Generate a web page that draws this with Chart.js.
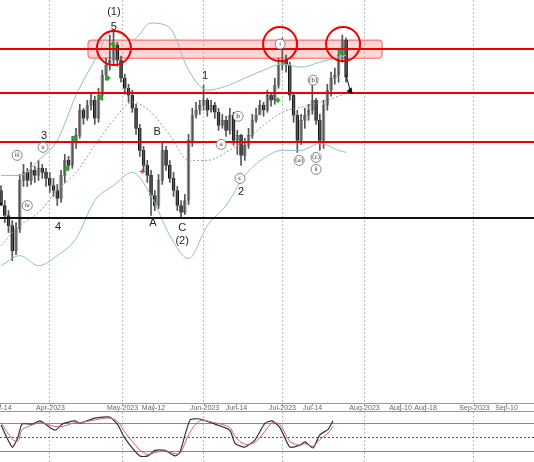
<!DOCTYPE html>
<html>
<head>
<meta charset="utf-8">
<script src="https://cdn.jsdelivr.net/npm/chart.js@4.4.0/dist/chart.umd.min.js"></script>
<style>
  body { margin: 0; background: #fff; }
  #wrap { position: relative; width: 534px; height: 462px; }
  #main { position: absolute; left: 0; top: 0; }
  #osc { position: absolute; left: 0; top: 412px; }
</style>
</head>
<body>
<div id="wrap">
  <canvas id="main" width="534" height="412"></canvas>
  <canvas id="osc" width="534" height="50"></canvas>
</div>
<script>
"use strict";

// price bars, one per trading day (index 0 = Mar-14)
const closes = [195,185,175,150,172,220,228,220,230,225,232,228,222,215,210,202,225,240,235,258,265,290,282,295,300,282,305,325,335,340,355,340,322,312,305,292,272,250,235,225,205,195,220,250,235,222,210,195,188,200,260,285,290,295,300,290,295,288,275,280,270,285,260,265,245,255,265,280,285,295,290,305,300,315,335,340,335,305,285,260,280,285,290,300,280,260,295,310,322,325,345,360,323];
const opens = [210,195,185,175,150,172,220,228,220,230,225,232,228,222,215,210,202,225,240,235,258,265,290,282,295,300,282,305,325,335,340,355,340,322,312,305,292,272,250,235,225,205,195,220,250,235,222,210,195,188,200,260,285,290,295,300,290,295,288,275,280,270,285,260,265,245,255,265,280,285,295,290,305,300,315,335,340,335,305,285,260,280,285,290,300,280,260,295,310,322,325,345,360];
const highs = [215,200,190,180,178,226,236,232,238,234,240,236,232,228,222,216,230,246,244,264,272,296,292,300,306,304,312,330,342,365,370,358,344,326,316,310,296,276,254,240,230,210,226,258,254,240,228,214,200,206,266,292,298,300,315,302,300,298,292,286,284,292,288,270,266,262,272,286,292,300,298,310,308,322,342,362,345,338,308,290,286,292,296,322,302,286,300,316,328,332,352,365,362];
const lows = [198,178,168,140,146,168,214,214,216,218,220,222,214,208,204,195,198,218,230,232,252,262,276,280,290,276,278,300,320,330,336,334,318,306,298,288,266,244,228,218,185,190,192,216,230,218,204,190,182,186,196,254,282,286,290,284,288,282,270,272,264,266,255,246,235,240,252,262,278,286,284,288,294,296,312,330,328,300,278,248,256,272,280,286,276,250,252,290,304,316,318,338,318];

// bollinger bands, sampled every 5 bars
const bandIdx = [0,5,10,15,20,25,30,35,40,45,50,55,60,65,70,75,80,85,90,92];
const bandUpper = [225,225,240,260,305,340,370,360,377,372,330,310,314,322,330,336,333,338,343,345];
const bandMid = [155,175,188,210,228,255,280,298,288,265,240,240,248,260,275,288,293,298,304,307];
const bandLower = [135,145,135,145,162,200,215,228,205,165,142,175,195,225,242,250,250,257,250,248];

// levels
const redLevels = [351, 307, 258];
const blackLevel = 183;
const zone = { from: 23.2, to: 101.6, low: 342, high: 360 };
const circles = [[30.1, 352], [74.4, 356], [91.2, 356]];

// date axis
const tickPos = [-0.3, 13, 32.3, 40.5, 54, 62.7, 75, 83, 96.8, 106.4, 113, 126, 134.7];
const tickLabels = ["Mar-14", "Apr-2023", "May-2023", "May-12", "Jun-2023", "Jun-14", "Jul-2023", "Jul-14", "Aug-2023", "Aug-10", "Aug-18", "Sep-2023", "Sep-10"];
const monthTicks = [13, 32.3, 54, 75, 96.8, 126];

// wave labels: [bar index, price, text, circled]
const waveLabels = [
  [30.1, 388, "(1)", false], [30.1, 373, "5", false], [11.5, 264, "3", false], [15.2, 174, "4", false],
  [41.6, 268, "B", false], [40.5, 178, "A", false], [48.3, 173, "C", false], [48.3, 160, "(2)", false],
  [54.4, 324, "1", false], [64, 209, "2", false],
  [4.3, 245, "iii", true], [7, 195, "iv", true], [11.2, 253, "v", true], [74.4, 356, "i", true],
  [58.7, 256, "a", true], [63.2, 284, "b", true], [63.7, 222, "c", true],
  [79.5, 240, "(a)", true], [83.2, 320, "(b)", true], [84, 243, "(c)", true], [84, 231, "ii", true]
];
const greenMarks = [[17.5, 232], [19.5, 262], [26.5, 303], [28.5, 322], [29.8, 356], [73.8, 300], [90.5, 348]];

// stochastic oscillator
const oscIdx = [0,3,4.5,5.6,8.3,10.4,14.4,16.3,19.7,21,25,29,31.2,33,37,39.2,41,43.7,46.4,47.7,50.4,53,57,61,62.4,65,67.7,70.4,72.3,74.4,77,79.7,81,83.2,85,87.2,88.5];
const oscK = [75,28,49,77,77,84,64,77,84,79,90,92,75,47,9,9,21,21,9,17,86,88,77,64,36,28,43,79,84,69,28,32,39,26,54,66,84];
const oscD = [80,45,40,65,75,80,72,72,80,80,86,90,82,60,22,12,16,20,14,14,60,84,80,70,50,34,38,62,80,76,40,32,35,30,44,58,72];

const xMin = -0.27, xMax = 142.1;

const wicks = closes.map((c, i) => ({ x: i, y: [lows[i], highs[i]] }));
const bodies = closes.map((c, i) => ({ x: i, y: [opens[i], c === opens[i] ? c + 1 : c] }));
const upColor = closes.map((c, i) => c >= opens[i] ? "#ececec" : "#111");
const upBorder = closes.map((c, i) => c >= opens[i] ? "#888" : "#111");

function pts(xs, ys) { return xs.map((x, i) => ({ x: x, y: ys[i] })); }

const gridColor = ctx => ctx.tick && monthTicks.includes(ctx.tick.value) ? "#bbb" : "rgba(0,0,0,0)";
const xScale = () => ({
  type: "linear", min: xMin, max: xMax, offset: false, bounds: "data",
  afterBuildTicks: s => { s.ticks = tickPos.map(v => ({ value: v })); },
  ticks: { display: false },
  grid: { offset: false, drawTicks: false, color: gridColor },
  border: { display: false, dash: [2, 2] }
});

const overlay = {
  id: "overlay",
  beforeDatasetsDraw(chart) {
    const { ctx, scales: { x, y } } = chart;
    ctx.save();
    const zx1 = x.getPixelForValue(zone.from), zx2 = x.getPixelForValue(zone.to);
    const zy1 = y.getPixelForValue(zone.high), zy2 = y.getPixelForValue(zone.low);
    ctx.fillStyle = "rgba(255,120,120,0.3)";
    ctx.strokeStyle = "#f55";
    ctx.lineWidth = 1;
    ctx.beginPath();
    ctx.roundRect(zx1, zy1, zx2 - zx1, zy2 - zy1, 3);
    ctx.fill(); ctx.stroke();
    ctx.restore();
  },
  afterDatasetsDraw(chart) {
    const { ctx, chartArea, scales: { x, y } } = chart;
    ctx.save();
    ctx.lineWidth = 2;
    ctx.strokeStyle = "#e00";
    redLevels.forEach(v => {
      const py = Math.round(y.getPixelForValue(v));
      ctx.beginPath(); ctx.moveTo(0, py); ctx.lineTo(534, py); ctx.stroke();
    });
    ctx.strokeStyle = "#111";
    let py = Math.round(y.getPixelForValue(blackLevel));
    ctx.beginPath(); ctx.moveTo(0, py); ctx.lineTo(534, py); ctx.stroke();

    ctx.strokeStyle = "#e00";
    circles.forEach(c => {
      ctx.beginPath();
      ctx.arc(x.getPixelForValue(c[0]), y.getPixelForValue(c[1]), 17, 0, Math.PI * 2);
      ctx.stroke();
    });

    ctx.textAlign = "center"; ctx.textBaseline = "middle";
    waveLabels.forEach(l => {
      const px = x.getPixelForValue(l[0]), pyl = y.getPixelForValue(l[1]);
      if (l[3]) {
        ctx.fillStyle = "#fff"; ctx.strokeStyle = "#666"; ctx.lineWidth = 0.8;
        ctx.beginPath(); ctx.arc(px, pyl, 5, 0, Math.PI * 2); ctx.fill(); ctx.stroke();
        ctx.fillStyle = "#333"; ctx.font = "6px 'DejaVu Sans'";
        ctx.fillText(l[2], px, pyl);
      } else {
        ctx.fillStyle = "#222"; ctx.font = "11px 'Liberation Sans'";
        ctx.fillText(l[2], px, pyl);
      }
    });

    ctx.fillStyle = "#2a2";
    greenMarks.forEach(g => {
      const px = x.getPixelForValue(g[0]), pyg = y.getPixelForValue(g[1]);
      ctx.fillRect(px - 2.5, pyg - 1, 5, 2); ctx.fillRect(px - 1, pyg - 2.5, 2, 5);
    });
    ctx.fillStyle = "#c33";
    const rx = x.getPixelForValue(37.6), ry = y.getPixelForValue(229);
    ctx.fillRect(rx - 2.5, ry - 0.5, 5, 1); ctx.fillRect(rx - 0.5, ry - 2.5, 1, 5);

    const ax1 = x.getPixelForValue(92), ay1 = y.getPixelForValue(325);
    const ax2 = x.getPixelForValue(93.2), ay2 = y.getPixelForValue(308);
    ctx.strokeStyle = "#111"; ctx.lineWidth = 1;
    ctx.beginPath(); ctx.moveTo(ax1, ay1); ctx.lineTo(ax2, ay2); ctx.stroke();
    ctx.fillStyle = "#111";
    ctx.beginPath(); ctx.moveTo(ax2 + 2, ay2 + 2); ctx.lineTo(ax2 - 4, ay2 - 1); ctx.lineTo(ax2 + 1, ay2 - 5); ctx.fill();

    // date strip
    const b = chartArea.bottom;
    ctx.fillStyle = "#fff"; ctx.fillRect(0, b, 534, 412 - b);
    ctx.strokeStyle = "#999"; ctx.lineWidth = 1;
    ctx.beginPath(); ctx.moveTo(0, b + 0.5); ctx.lineTo(534, b + 0.5); ctx.stroke();
    ctx.beginPath(); ctx.moveTo(0, 411.5); ctx.lineTo(534, 411.5); ctx.stroke();
    ctx.fillStyle = "#666"; ctx.font = "7px 'Liberation Sans'"; ctx.textBaseline = "middle";
    tickPos.forEach((v, i) => {
      const px = Math.round(x.getPixelForValue(v)) + 0.5;
      ctx.beginPath(); ctx.moveTo(px, b); ctx.lineTo(px, b + 3); ctx.stroke();
      ctx.fillText(tickLabels[i], px, b + 5);
    });
    ctx.restore();
  }
};

new Chart(document.getElementById("main"), {
  type: "bar",
  data: {
    datasets: [
      { type: "line", data: pts(bandIdx, bandUpper), borderColor: "#8fbfbf", borderWidth: 1, pointRadius: 0, cubicInterpolationMode: "monotone" },
      { type: "line", data: pts(bandIdx, bandLower), borderColor: "#8fbfbf", borderWidth: 1, pointRadius: 0, cubicInterpolationMode: "monotone" },
      { type: "line", data: pts(bandIdx, bandMid), borderColor: "#999", borderWidth: 1, borderDash: [2, 2], pointRadius: 0, cubicInterpolationMode: "monotone" },
      { data: wicks, backgroundColor: "#555", barThickness: 1, grouped: false },
      { data: bodies, backgroundColor: upColor, borderColor: upBorder, borderWidth: 1, borderSkipped: false, barThickness: 3, grouped: false }
    ]
  },
  options: {
    responsive: false, animation: false,
    layout: { padding: { left: 0, right: 0, top: 0, bottom: 9 } },
    plugins: { legend: { display: false }, tooltip: { enabled: false } },
    scales: {
      x: xScale(),
      y: { display: false, min: -2, max: 400 }
    }
  },
  plugins: [overlay]
});

const oscLines = {
  id: "oscLines",
  beforeDatasetsDraw(chart) {
    const { ctx, scales: { y } } = chart;
    ctx.save();
    [[80, []], [20, []], [50, [2, 2]]].forEach(l => {
      const py = Math.round(y.getPixelForValue(l[0])) + 0.5;
      ctx.strokeStyle = l[1].length ? "#555" : "#888";
      ctx.lineWidth = 1;
      ctx.setLineDash(l[1]);
      ctx.beginPath(); ctx.moveTo(0, py); ctx.lineTo(534, py); ctx.stroke();
    });
    ctx.restore();
  }
};

new Chart(document.getElementById("osc"), {
  type: "line",
  data: {
    datasets: [
      { data: pts(oscIdx, oscD), borderColor: "#c66", borderWidth: 1, pointRadius: 0, tension: 0.3 },
      { data: pts(oscIdx, oscK), borderColor: "#333", borderWidth: 1.2, pointRadius: 0, tension: 0.2 }
    ]
  },
  options: {
    responsive: false, animation: false,
    layout: { padding: 0 },
    plugins: { legend: { display: false }, tooltip: { enabled: false } },
    scales: {
      x: xScale(),
      y: { display: false, min: -4, max: 103 }
    }
  },
  plugins: [oscLines]
});
</script>
</body>
</html>
